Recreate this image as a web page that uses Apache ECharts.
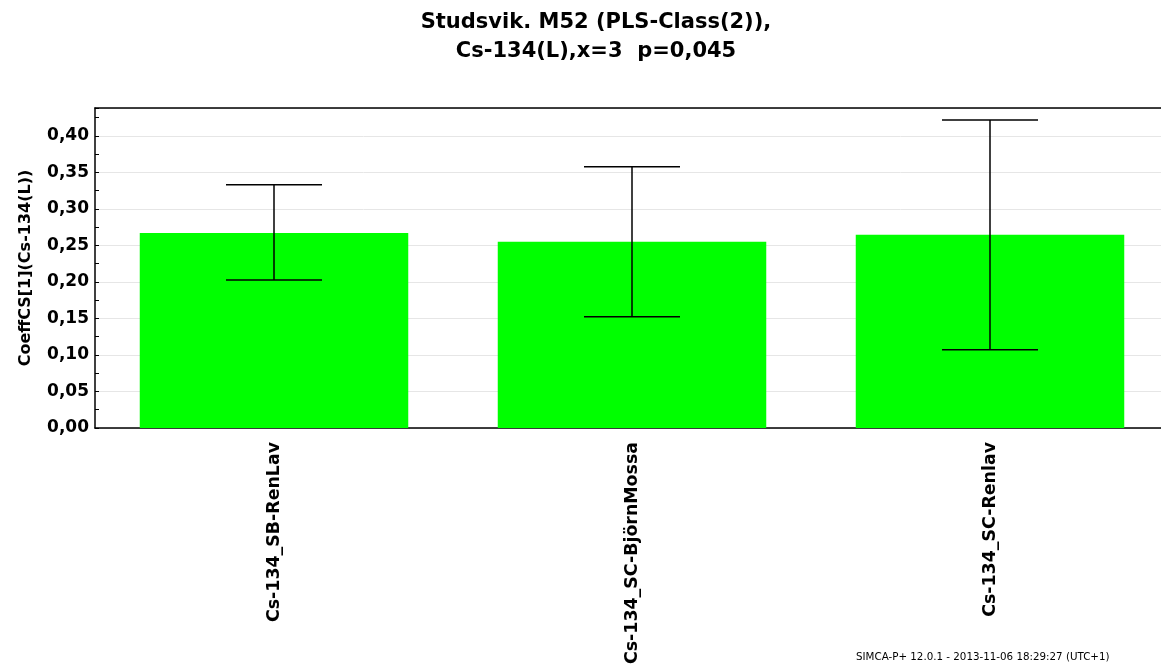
<!DOCTYPE html>
<html>
<head>
<meta charset="utf-8">
<script src="https://cdn.jsdelivr.net/npm/echarts@6/dist/echarts.min.js"></script>
<style>
  html, body { margin: 0; padding: 0; background: #fff; overflow: hidden; }
  #chart { width: 1169px; height: 665px; }
</style>
</head>
<body>
<div id="chart"></div>
<script>
const categories = ['Cs-134_SB-RenLav', 'Cs-134_SC-BjörnMossa', 'Cs-134_SC-Renlav'];
const coeffValues = [0.267, 0.255, 0.2645];
const errLow = [0.2025, 0.1523, 0.107];
const errHigh = [0.333, 0.3576, 0.4215];

const font = '"DejaVu Sans", Verdana, sans-serif';
const fmt = v => v.toFixed(2).replace('.', ',');

const chart = echarts.init(document.getElementById('chart'));

chart.setOption({
  backgroundColor: '#fff',
  animation: false,
  title: {
    text: 'Studsvik. M52 (PLS-Class(2)),\nCs-134(L),x=3  p=0,045',
    left: 591,
    textAlign: 'center',
    top: 3,
    textStyle: { fontFamily: font, fontWeight: 'bold', fontSize: 21, lineHeight: 29, color: '#000' }
  },
  graphic: [{
    type: 'text',
    left: 856,
    top: 652,
    style: { text: 'SIMCA-P+ 12.0.1 - 2013-11-06 18:29:27 (UTC+1)', fontFamily: font, fontSize: 10.3, fill: '#000' }
  }],
  grid: { left: 95, top: 108, right: 0, bottom: 237, outerBoundsMode: 'none' },
  xAxis: [{
    type: 'category',
    data: categories,
    axisLine: { lineStyle: { color: '#000', width: 1.5 } },
    axisTick: { alignWithLabel: true, length: 5, lineStyle: { color: '#000' } },
    axisLabel: {
      rotate: 90, margin: 14, color: '#000',
      fontFamily: font, fontWeight: 'bold', fontSize: 17.4
    }
  }, {
    type: 'category',
    data: categories,
    position: 'top',
    axisLine: { lineStyle: { color: '#000', width: 1.5 } },
    axisTick: { show: false },
    axisLabel: { show: false }
  }],
  yAxis: {
    type: 'value',
    min: 0,
    max: 0.438,
    interval: 0.05,
    name: 'CoeffCS[1](Cs-134(L))',
    nameLocation: 'middle',
    nameGap: 61,
    nameTextStyle: { fontFamily: font, fontWeight: 'bold', fontSize: 16, color: '#000' },
    axisLine: { show: true, lineStyle: { color: '#000', width: 1.5 } },
    axisTick: { show: true, inside: true, length: 4, lineStyle: { color: '#000' } },
    minorTick: { show: true, splitNumber: 2, length: 4, lineStyle: { color: '#000' } },
    splitLine: { lineStyle: { color: '#e6e6e6', width: 1 } },
    axisLabel: {
      formatter: fmt, color: '#000', margin: 6, showMaxLabel: false,
      fontFamily: font, fontWeight: 'bold', fontSize: 17
    }
  },
  series: [{
    type: 'bar',
    data: coeffValues,
    barWidth: '75%',
    itemStyle: { color: '#00ff00' }
  }, {
    type: 'custom',
    data: categories.map((c, i) => [i, errLow[i], errHigh[i]]),
    z: 10,
    renderItem: (params, api) => {
      const lo = api.coord([api.value(0), api.value(1)]);
      const hi = api.coord([api.value(0), api.value(2)]);
      const half = 48;
      const style = { stroke: '#000', lineWidth: 1.5 };
      return {
        type: 'group',
        children: [
          { type: 'line', shape: { x1: hi[0], y1: hi[1], x2: lo[0], y2: lo[1] }, style },
          { type: 'line', shape: { x1: hi[0] - half, y1: hi[1], x2: hi[0] + half, y2: hi[1] }, style },
          { type: 'line', shape: { x1: lo[0] - half, y1: lo[1], x2: lo[0] + half, y2: lo[1] }, style }
        ]
      };
    }
  }]
});
</script>
</body>
</html>
